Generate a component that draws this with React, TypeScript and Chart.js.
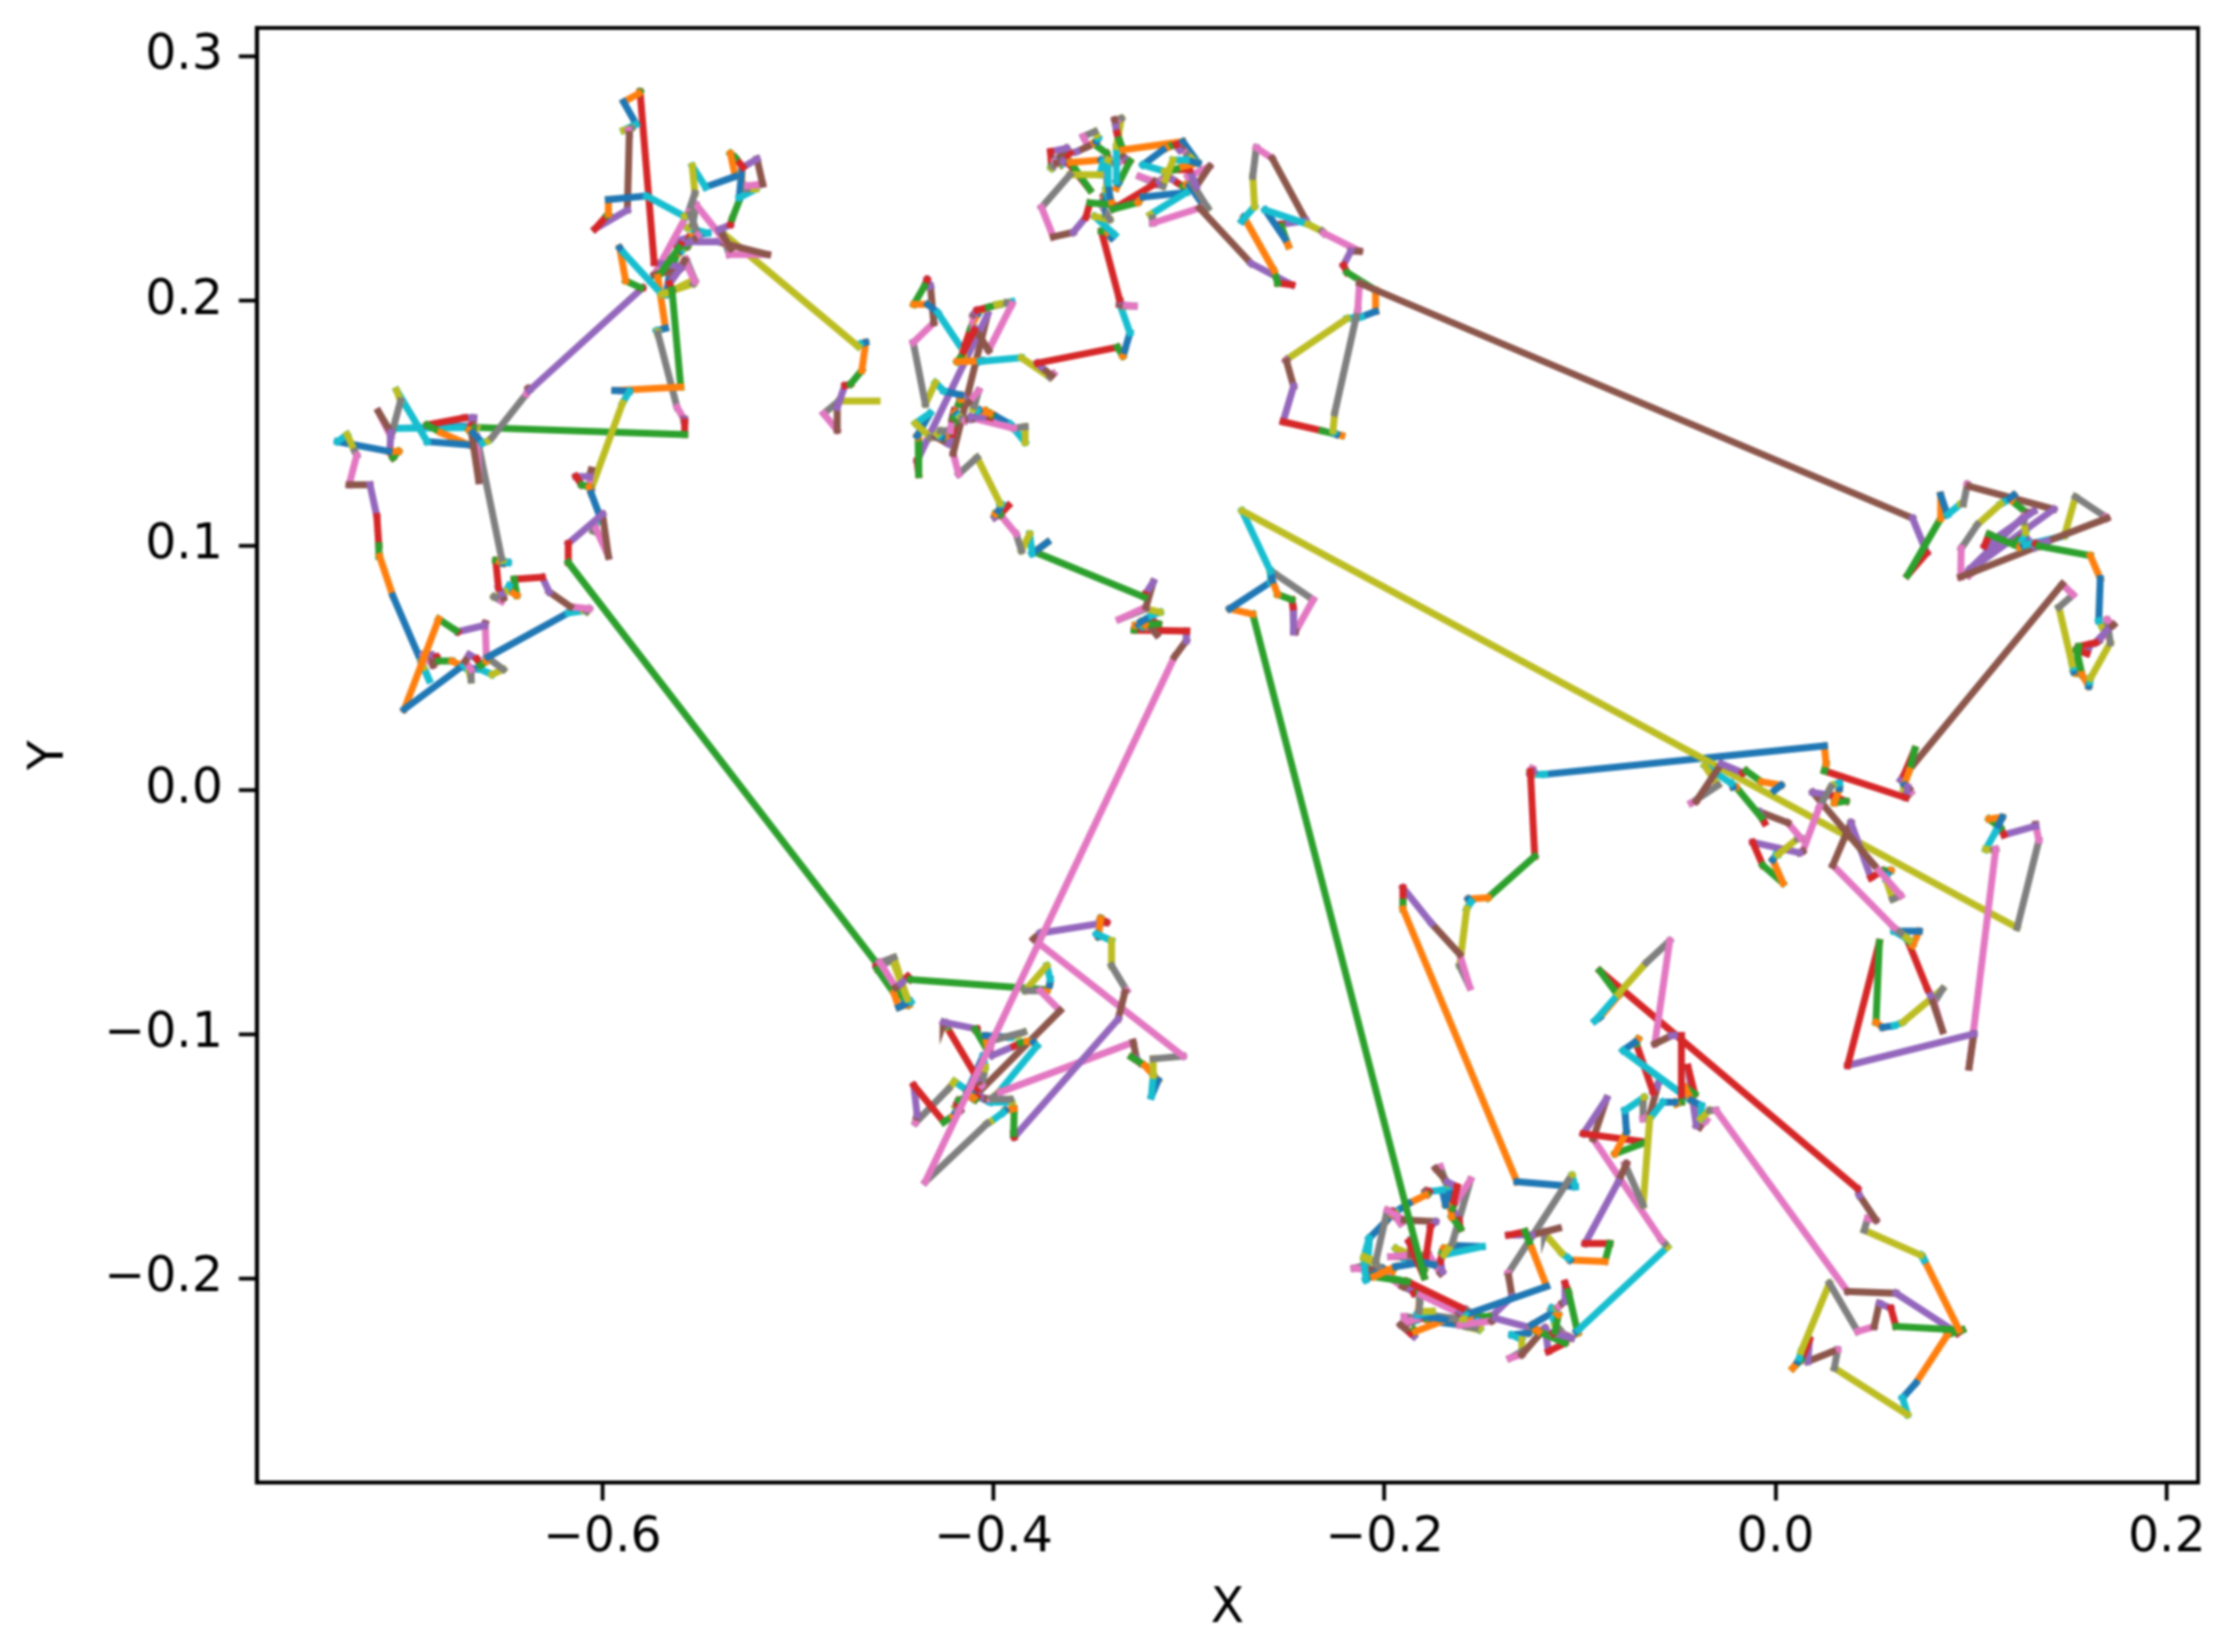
import React, { useEffect, useRef } from "react";
import { Chart, registerables } from "chart.js";

Chart.register(...registerables);

const xTicks = [-0.6, -0.4, -0.2, 0.0, 0.2];
const yTicks = [-0.2, -0.1, 0.0, 0.1, 0.2, 0.3];
const xLabel = "X";
const yLabel = "Y";
const palette = ["#1f77b4", "#ff7f0e", "#2ca02c", "#d62728", "#9467bd", "#8c564b", "#e377c2", "#7f7f7f", "#bcbd22", "#17becf"];

type P = [number, number];
const startPoint: P[] = [[-0.0006, -0.0002]];
const centreRight: P[] = [
[0.0028,0.0019],[-0.0074,0.0034],[-0.0151,0.0078],[-0.0168,0.0070],[-0.0278,0.0107],[-0.0406,-0.0046],[-0.0431,-0.0053],[-0.0295,0.0019],[-0.0363,0.0099],[-0.0227,0.0027],
[-0.0218,0.0012],[-0.0202,0.0012],[-0.0074,-0.0112],[-0.0057,-0.0134],[-0.0082,-0.0090],[0.0062,-0.0134],[0.0130,-0.0199],[0.0113,-0.0199],[0.0011,-0.0265],[0.0003,-0.0265],
[-0.0015,-0.0286],[0.0037,-0.0381],[-0.0066,-0.0308],[-0.0117,-0.0214],[0.0122,-0.0257],[0.0139,-0.0250],[0.0224,-0.0068],[0.0283,0.0012],[0.0292,0.0019],[0.0326,0.0027],
[0.0326,0.0005],[0.0300,-0.0053],[0.0360,-0.0046],[0.0292,-0.0024],[0.0190,-0.0010],[0.0504,-0.0308],[0.0640,-0.0432],[0.0598,-0.0447],[0.0564,-0.0366],[0.0567,-0.0352],
[0.0572,-0.0345],[0.0589,-0.0330],[0.0547,-0.0330],[0.0487,-0.0359],[0.0385,-0.0134],[0.0292,-0.0308],[0.0606,-0.0563],[0.0640,-0.0585],[0.0683,-0.0614],[0.0606,-0.0578],
[0.0734,-0.0578],[0.0700,-0.0636],[0.0674,-0.0614],[0.0776,-0.0815],[0.0793,-0.0842],[0.0853,-0.0985],[0.0810,-0.0869],[0.0853,-0.0815],[0.0649,-0.0951],[0.0606,-0.0964],
[0.0547,-0.0971],[0.0513,-0.0951],[0.0530,-0.0624],[0.0368,-0.1127],[0.1014,-0.0998],[0.0989,-0.1134],[0.1125,-0.0243],[0.1116,-0.0246],[0.1074,-0.0243],[0.1125,-0.0170],
[0.1159,-0.0112],[0.1091,-0.0119],[0.1150,-0.0155],[0.1167,-0.0184],[0.1329,-0.0148],[0.1329,-0.0141],[0.1346,-0.0206],[0.1235,-0.0563],[-0.2729,0.1142],[-0.2583,0.0894],
[-0.2574,0.0858],[-0.2547,0.0800],[-0.2474,0.0778],[-0.2468,0.0749],[-0.2465,0.0647],[-0.2456,0.0647],[-0.2365,0.0778],[-0.2565,0.0887],[-0.2583,0.0894],[-0.2583,0.0850],
];
const lowerCluster: P[] = [
[-0.2792,0.0741],[-0.2674,0.0719],[-0.1798,-0.1991],[-0.1875,-0.1848],[-0.1866,-0.1841],[-0.1866,-0.1902],[-0.1968,-0.1909],[-0.1841,-0.1909],[-0.1943,-0.1875],[-0.1900,-0.1916],
[-0.1748,-0.1943],[-0.1833,-0.1929],[-0.1798,-0.1963],[-0.1765,-0.1787],[-0.1739,-0.1766],[-0.1900,-0.1759],[-0.1986,-0.1719],[-0.2045,-0.1929],[-0.2105,-0.1909],[-0.2079,-0.1834],
[-0.1986,-0.1759],[-0.1977,-0.1746],[-0.1969,-0.1732],[-0.1960,-0.1725],[-0.1952,-0.1739],[-0.1960,-0.1732],[-0.1918,-0.1773],[-0.1935,-0.1746],[-0.1943,-0.1732],[-0.1943,-0.1725],
[-0.1875,-0.1691],[-0.1790,-0.1657],[-0.1782,-0.1655],[-0.1773,-0.1644],[-0.1782,-0.1647],[-0.1790,-0.1641],[-0.1782,-0.1651],[-0.1790,-0.1644],[-0.1782,-0.1644],[-0.1705,-0.1637],
[-0.1688,-0.1698],[-0.1680,-0.1701],[-0.1654,-0.1712],[-0.1629,-0.1623],[-0.1680,-0.1603],[-0.1739,-0.1549],[-0.1714,-0.1542],[-0.1688,-0.1603],[-0.1680,-0.1610],[-0.1671,-0.1623],
[-0.1663,-0.1671],[-0.1657,-0.1746],[-0.1612,-0.1793],[-0.1620,-0.1759],[-0.1654,-0.1712],[-0.1646,-0.1698],[-0.1561,-0.1596],[-0.1654,-0.1855],[-0.1696,-0.1902],[-0.1501,-0.1868],
[-0.1637,-0.1864],[-0.1696,-0.1875],[-0.1705,-0.1889],[-0.1714,-0.1929],[-0.1705,-0.1970],[-0.1714,-0.1977],[-0.1773,-0.1902],[-0.1824,-0.1909],[-0.1782,-0.1895],[-0.1782,-0.1929],
[-0.1943,-0.1950],[-0.2054,-0.1991],[-0.1884,-0.2011],[-0.1603,-0.2120],[-0.1612,-0.2133],[-0.1620,-0.2140],[-0.1816,-0.2065],[-0.1824,-0.2133],[-0.1756,-0.2133],[-0.1833,-0.2147],
[-0.1688,-0.2167],[-0.1841,-0.2215],[-0.1850,-0.2208],[-0.1867,-0.2222],[-0.1850,-0.2235],[-0.1918,-0.2188],[-0.1790,-0.2147],[-0.1637,-0.2161],[-0.1595,-0.2163],[-0.1586,-0.2147],
];
const lowerMiddle: P[] = [
[-0.1171,-0.2031],[-0.1247,-0.1875],[-0.1281,-0.1807],[-0.1366,-0.1821],[-0.1247,-0.1821],[-0.1111,-0.1793],[-0.1179,-0.1807],[-0.1182,-0.1814],[-0.1094,-0.1895],[-0.1060,-0.1916],
[-0.1052,-0.1923],[-0.0873,-0.1929],[-0.0848,-0.1855],[-0.0975,-0.1855],[-0.0805,-0.1603],[-0.0763,-0.1528],[-0.0771,-0.1531],[-0.0678,-0.1698],[-0.0644,-0.1345],[-0.0576,-0.1277],
[-0.0516,-0.1277],[-0.0508,-0.1284],[-0.0482,-0.1277],[-0.0482,-0.1005],[-0.0533,-0.1005],[-0.0618,-0.1039],[-0.0542,-0.0617],[-0.0661,-0.0706],[-0.0805,-0.0835],[-0.0924,-0.0944],
[-0.0899,-0.0930],[-0.0805,-0.0842],[-0.0899,-0.0740],[0.0419,-0.1631],[0.0428,-0.1658],[0.0513,-0.1760],[0.0470,-0.1753],[0.0453,-0.1801],[0.0742,-0.1903],[0.0759,-0.1923],
[0.0751,-0.1909],[0.0938,-0.2209],[0.0615,-0.2195],[0.0589,-0.2120],[0.0530,-0.2100],[0.0504,-0.2195],[0.0419,-0.2215],[0.0275,-0.2018],[0.0130,-0.2297],[0.0122,-0.2324],
[0.0113,-0.2338],[0.0088,-0.2365],[0.0130,-0.2331],[0.0173,-0.2249],[0.0164,-0.2338],[0.0292,-0.2297],[0.0317,-0.2290],[0.0300,-0.2365],[0.0674,-0.2555],[0.0649,-0.2487],
[0.0717,-0.2426],[0.0878,-0.2229],[0.0955,-0.2209],[0.0929,-0.2222],[0.0615,-0.2059],[0.0368,-0.2052],[-0.0304,-0.1311],[-0.0338,-0.1311],[-0.0383,-0.1345],[-0.0380,-0.1291],
[-0.0431,-0.1270],[-0.0465,-0.1216],[-0.0414,-0.1243],[-0.0448,-0.1134],[-0.0406,-0.1372],[-0.0389,-0.1379],[-0.0355,-0.1352],[-0.0372,-0.1345],[-0.0389,-0.1297],[-0.0780,-0.1066],
[-0.0720,-0.1032],[-0.0703,-0.1019],[-0.0712,-0.1039],[-0.0627,-0.1236],[-0.0601,-0.1202],[-0.0644,-0.1331],[-0.0678,-0.1345],[-0.0678,-0.1284],[-0.0672,-0.1257],[-0.0771,-0.1311],
[-0.0763,-0.1399],[-0.0822,-0.1488],[-0.0661,-0.1440],[-0.0984,-0.1406],[-0.0865,-0.1263],[-0.0933,-0.1427],[-0.0584,-0.1841],[-0.0567,-0.1855],[-0.0553,-0.1869],[-0.1009,-0.2209],
[-0.1018,-0.2215],[-0.1012,-0.2222],[-0.1060,-0.2052],[-0.1077,-0.2018],[-0.1077,-0.2093],[-0.1091,-0.2099],[-0.1108,-0.2113],[-0.1114,-0.2117],[-0.1120,-0.2120],[-0.1145,-0.2120],
[-0.1148,-0.2123],[-0.1111,-0.2147],[-0.1128,-0.2215],[-0.1137,-0.2222],[-0.1043,-0.2242],[-0.1060,-0.2235],[-0.1077,-0.2231],[-0.1111,-0.2201],[-0.1128,-0.2188],[-0.1145,-0.2140],
[-0.1247,-0.2188],[-0.1213,-0.2215],[-0.1077,-0.2263],[-0.1162,-0.2297],[-0.1179,-0.2201],[-0.1298,-0.2310],[-0.1358,-0.2324],[-0.1298,-0.2297],[-0.1298,-0.2249],[-0.1349,-0.2229],
[-0.1264,-0.2222],[-0.1247,-0.2208],[-0.1128,-0.2235],[-0.1060,-0.2242],[-0.1434,-0.2161],[-0.1451,-0.2172],[-0.1613,-0.2188],[-0.1536,-0.2201],[-0.1511,-0.2201],[-0.1528,-0.2174],
];
const clusterReturn: P[] = [
[-0.1527,-0.2167],[-0.1578,-0.2161],[-0.1595,-0.2133],[-0.1603,-0.2147],[-0.1612,-0.2167],[-0.1629,-0.2174],[-0.1620,-0.2188],[-0.1586,-0.2195],[-0.1518,-0.2208],[-0.1544,-0.2195],
[-0.1756,-0.2174],[-0.1765,-0.2181],[-0.1782,-0.2167],[-0.1807,-0.2161],[-0.1833,-0.2161],[-0.1892,-0.2188],[-0.1900,-0.2154],[-0.1824,-0.2161],[-0.1773,-0.2147],[-0.1850,-0.2174],
[-0.1833,-0.2167],[-0.1821,-0.2093],[-0.1824,-0.2052],[-0.1850,-0.2059],[-0.1867,-0.2045],[-0.1909,-0.2031],[-0.1994,-0.1984],[-0.2045,-0.1936],[-0.2105,-0.1916],[-0.2096,-0.2004],
[-0.2011,-0.1957],[-0.1960,-0.1970],[-0.1977,-0.1991],[-0.1994,-0.1977],[-0.2028,-0.1957],[-0.2079,-0.1963],[-0.2156,-0.1957],[-0.2096,-0.1943],[-0.2088,-0.1970],[-0.2079,-0.1848],
[-0.2096,-0.1936],[-0.2088,-0.1977],[-0.1884,-0.2011],[-0.1595,-0.2133],[-0.1586,-0.2127],[-0.1583,-0.2133],[-0.1578,-0.2140],[-0.1572,-0.2133],[-0.1566,-0.2140],[-0.1569,-0.2147],
[-0.1561,-0.2140],[-0.1578,-0.2154],[-0.1467,-0.2154],[-0.1462,-0.2161],[-0.1348,-0.2072],[-0.1365,-0.1991],[-0.1368,-0.1977],[-0.1059,-0.1596],[-0.1042,-0.1576],[-0.1025,-0.1623],
[-0.1323,-0.1603],[-0.1906,-0.0487],[-0.1906,-0.0458],[-0.1906,-0.0400],[-0.1761,-0.0545],[-0.1616,-0.0672],[-0.1565,-0.0806],[-0.1616,-0.0719],[-0.1580,-0.0487],[-0.1558,-0.0458],
[-0.1572,-0.0446],[-0.1471,-0.0441],[-0.1232,-0.0272],[-0.1254,0.0075],[-0.1239,0.0075],[-0.1254,0.0064],[-0.1246,0.0087],[-0.1254,0.0075],[-0.1246,0.0064],[-0.1181,0.0064],
];
const upperRight: P[] = [
[0.0249,0.0180],[0.0258,0.0107],[0.0249,0.0078],[0.0666,-0.0032],[0.0674,0.0012],[0.0683,0.0005],[0.0691,-0.0010],[0.0674,-0.0024],[0.0657,-0.0002],[0.0666,0.0005],
[0.0657,0.0019],[0.0683,0.0078],[0.0711,0.0165],[0.0657,0.0063],[0.0640,0.0041],[0.1465,0.0842],[0.1521,0.0798],[0.1448,0.0747],[0.1516,0.0514],[0.1521,0.0500],
[0.1524,0.0485],[0.1533,0.0478],[0.1550,0.0587],[0.1635,0.0602],[0.1694,0.0653],[0.1728,0.0675],[0.1694,0.0696],[0.1711,0.0602],[0.1609,0.0456],[0.1606,0.0442],
[0.1601,0.0424],[0.1567,0.0471],[0.1538,0.0573],[0.1592,0.0558],[0.1609,0.0594],[0.1652,0.0609],[0.1694,0.0645],[0.1703,0.0675],[0.1669,0.0667],[0.1652,0.0692],
[0.1660,0.0864],[0.1609,0.0958],[0.1346,0.0998],[0.1329,0.1007],[0.1388,0.1017],[0.1694,0.1111],[0.1687,0.1117],[0.1533,0.1199],[0.1476,0.1039],[0.1278,0.1002],
[0.1269,0.0998],[0.1249,0.0992],[0.1091,0.1046],[0.1068,0.0998],[0.1320,0.1140],[0.1289,0.1132],[0.1278,0.1126],[0.1269,0.1097],[0.1278,0.1053],[0.1261,0.1024],
[0.1269,0.1031],[0.1252,0.1007],[0.1235,0.1021],[0.1269,0.1041],[0.1329,0.0992],[0.0946,0.0871],[0.0949,0.0988],[0.1031,0.1085],[0.1150,0.1170],[0.1167,0.1177],
[0.1218,0.1206],[0.1204,0.1184],[0.1286,0.1133],[0.1278,0.1126],[0.0989,0.0900],[0.0980,0.0886],[0.0989,0.0878],[0.1006,0.0893],[0.1023,0.0908],[0.1014,0.0900],
[0.1006,0.0893],[0.0997,0.0896],[0.0989,0.0890],[0.0994,0.0900],[0.1422,0.1148],[0.0989,0.1242],[0.0980,0.1250],[0.0960,0.1170],[0.0946,0.1170],[0.0878,0.1126],
[0.0844,0.1206],[0.0844,0.1111],[0.0674,0.0878],[0.0773,0.0969],[0.0700,0.1111],[-0.2128,0.2073],[-0.2137,0.1964],[-0.2255,0.1542],[-0.2264,0.1469],[-0.2259,0.1462],
];
const upperMiddle: P[] = [
[-0.2246,0.1455],[-0.2219,0.1450],[-0.2319,0.1469],[-0.2519,0.1506],[-0.2465,0.1651],[-0.2501,0.1753],[-0.2505,0.1756],[-0.2501,0.1760],[-0.2192,0.1928],[-0.2119,0.1935],
[-0.2046,0.1957],[-0.2046,0.2044],[-0.2192,0.2117],[-0.2210,0.2146],[-0.2173,0.2204],[-0.2128,0.2204],[-0.2310,0.2277],[-0.2319,0.2285],[-0.2392,0.2314],[-0.2610,0.2372],
[-0.2510,0.2255],[-0.2492,0.2226],[-0.2528,0.2306],[-0.2528,0.2314],[-0.2401,0.2328],[-0.2574,0.2583],[-0.2656,0.2627],[-0.2674,0.2510],[-0.2665,0.2386],[-0.2729,0.2328],
[-0.2719,0.2343],[-0.2565,0.2124],[-0.2547,0.2073],[-0.2474,0.2066],[-0.2683,0.2154],[-0.2946,0.2380],[-0.3184,0.2319],[-0.3187,0.2339],[-0.3198,0.2353],[-0.3014,0.2444],
];
const topCluster: P[] = [
[-0.3235,0.2425],[-0.3261,0.2403],[-0.3388,0.2376],[-0.3184,0.2474],[-0.3164,0.2479],[-0.3176,0.2489],[-0.3252,0.2509],[-0.3133,0.2469],[-0.3082,0.2577],[-0.3014,0.2577],
[-0.2955,0.2564],[-0.3031,0.2550],[-0.3074,0.2537],[-0.2997,0.2537],[-0.2963,0.2469],[-0.2895,0.2550],[-0.3006,0.2509],[-0.2904,0.2380],[-0.2912,0.2387],[-0.2929,0.2394],
[-0.2997,0.2471],[-0.3014,0.2475],[-0.3031,0.2469],[-0.3057,0.2482],[-0.3082,0.2496],[-0.3099,0.2503],[-0.3167,0.2485],[-0.3116,0.2509],[-0.3125,0.2530],[-0.3235,0.2557],
[-0.3133,0.2618],[-0.3116,0.2625],[-0.3099,0.2632],[-0.3065,0.2639],[-0.3048,0.2618],[-0.3040,0.2625],[-0.3031,0.2618],[-0.3014,0.2605],[-0.2980,0.2577],[-0.2955,0.2567],
[-0.3031,0.2652],[-0.3337,0.2618],[-0.3357,0.2659],[-0.3368,0.2686],[-0.3374,0.2713],[-0.3380,0.2741],[-0.3371,0.2734],[-0.3346,0.2747],[-0.3371,0.2632],[-0.3371,0.2489],
[-0.3363,0.2482],[-0.3371,0.2462],[-0.3303,0.2571],[-0.3312,0.2564],[-0.3320,0.2577],[-0.3337,0.2591],[-0.3354,0.2571],[-0.3380,0.2564],[-0.3414,0.2577],[-0.3414,0.2482],
[-0.3405,0.2428],[-0.3391,0.2394],[-0.3507,0.2401],[-0.3527,0.2343],[-0.3592,0.2281],[-0.3694,0.2262],[-0.3754,0.2383],[-0.3609,0.2516],[-0.3456,0.2516],[-0.3439,0.2571],
[-0.3448,0.2577],[-0.3606,0.2567],[-0.3507,0.2455],[-0.3609,0.2557],[-0.3643,0.2571],[-0.3677,0.2564],[-0.3686,0.2571],[-0.3694,0.2550],[-0.3703,0.2543],[-0.3694,0.2557],
[-0.3686,0.2577],[-0.3680,0.2571],[-0.3703,0.2550],[-0.3708,0.2611],[-0.3626,0.2625],[-0.3686,0.2567],[-0.3677,0.2577],[-0.3669,0.2571],[-0.3660,0.2564],[-0.3652,0.2561],
[-0.3643,0.2564],[-0.3652,0.2557],[-0.3660,0.2564],[-0.3609,0.2605],[-0.3575,0.2611],[-0.3516,0.2632],[-0.3541,0.2673],[-0.3482,0.2693],[-0.3473,0.2679],[-0.3465,0.2666],
[-0.3473,0.2652],[-0.3490,0.2645],[-0.3422,0.2605],[-0.3414,0.2584],[-0.3422,0.2571],[-0.3431,0.2550],[-0.3422,0.2523],[-0.3419,0.2489],[-0.3425,0.2455],[-0.3422,0.2448],
[-0.3425,0.2439],[-0.3431,0.2428],[-0.3422,0.2407],[-0.3436,0.2428],[-0.3439,0.2414],[-0.3442,0.2401],[-0.3448,0.2394],[-0.3405,0.2333],[-0.3482,0.2346],[-0.3380,0.2271],
[-0.3397,0.2258],[-0.3414,0.2278],[-0.3448,0.2285],[-0.3356,0.2008],[-0.3353,0.2001],[-0.3356,0.1986],[-0.3280,0.1979],[-0.3338,0.1979],[-0.3353,0.1986],[-0.3302,0.1870],
[-0.3329,0.1797],[-0.3338,0.1775],[-0.3366,0.1811],[-0.3775,0.1746],[-0.3757,0.1731],[-0.3702,0.1695],[-0.3693,0.1702],[-0.3711,0.1688],[-0.3857,0.1768],[-0.4066,0.1753],
];
const midCluster: P[] = [
[-0.4059,0.1755],[-0.4186,0.1752],[-0.4169,0.1768],[-0.4098,0.1880],[-0.4092,0.1884],[-0.4025,0.1798],[-0.3906,0.1986],[-0.3931,0.1993],[-0.3982,0.1986],[-0.3906,0.1997],
[-0.3948,0.1989],[-0.3982,0.1983],[-0.4025,0.1975],[-0.4084,0.1962],[-0.4092,0.1952],[-0.4101,0.1945],[-0.4104,0.1938],[-0.4084,0.1959],[-0.4050,0.1966],[-0.4067,0.1962],
[-0.4075,0.1952],[-0.4101,0.1918],[-0.4118,0.1884],[-0.4144,0.1823],[-0.4135,0.1830],[-0.4144,0.1816],[-0.4152,0.1802],[-0.4155,0.1798],[-0.4152,0.1793],[-0.4285,0.1952],
[-0.4336,0.1986],[-0.4407,0.1986],[-0.4353,0.2061],[-0.4339,0.2088],[-0.4322,0.2061],[-0.4305,0.1911],[-0.4410,0.1830],[-0.4348,0.1578],[-0.4297,0.1666],[-0.4254,0.1632],
[-0.4169,0.1616],[-0.4166,0.1598],[-0.4178,0.1578],[-0.4169,0.1598],[-0.4152,0.1605],[-0.4127,0.1585],[-0.4076,0.1632],[-0.4098,0.1571],[-0.4104,0.1558],[-0.4084,0.1551],
[-0.4075,0.1554],[-0.4019,0.1540],[-0.4013,0.1534],[-0.4016,0.1524],[-0.4115,0.1526],[-0.4104,0.1521],[-0.3897,0.1480],[-0.3838,0.1486],[-0.3838,0.1422],[-0.3914,0.1496],
[-0.3999,0.1534],[-0.4042,0.1551],[-0.4067,0.1544],[-0.4084,0.1530],[-0.4110,0.1517],[-0.4127,0.1517],[-0.4144,0.1510],[-0.4161,0.1517],[-0.4169,0.1524],[-0.4178,0.1530],
[-0.4186,0.1537],[-0.4195,0.1544],[-0.4203,0.1524],[-0.4200,0.1551],[-0.4206,0.1537],[-0.4212,0.1517],[-0.4220,0.1469],[-0.4271,0.1469],[-0.4288,0.1456],[-0.4280,0.1449],
[-0.4263,0.1442],[-0.4246,0.1446],[-0.4200,0.1503],[-0.4212,0.1456],[-0.4229,0.1415],[-0.4297,0.1445],[-0.4288,0.1442],[-0.4322,0.1442],[-0.4399,0.1499],[-0.4325,0.1540],
[-0.4390,0.1449],[-0.4385,0.1442],[-0.4382,0.1290],[-0.4390,0.1347],[-0.4030,0.1945],[-0.4206,0.1377],[-0.4178,0.1292],[-0.4084,0.1360],[-0.3966,0.1171],[-0.3957,0.1168],
[-0.3975,0.1142],[-0.3990,0.1130],[-0.3966,0.1127],[-0.3924,0.1163],[-0.3993,0.1115],[-0.3966,0.1127],[-0.3884,0.1047],[-0.3857,0.0979],[-0.3815,0.1047],[-0.3802,0.0967],
[-0.3724,0.1013],[-0.3790,0.0974],[-0.3229,0.0789],[-0.3225,0.0799],[-0.3183,0.0850],[-0.3220,0.0748],[-0.3356,0.0698],[-0.3220,0.0741],[-0.3147,0.0727],[-0.3193,0.0712],
[-0.3247,0.0687],[-0.3225,0.0676],[-0.3156,0.0679],[-0.3184,0.0690],[-0.3211,0.0683],[-0.3165,0.0635],[-0.3193,0.0661],[-0.3220,0.0668],[-0.3193,0.0690],[-0.3238,0.0668],
[-0.3256,0.0676],[-0.3275,0.0673],[-0.3280,0.0654],[-0.3011,0.0650],[-0.3014,0.0610],[-0.3074,0.0545],[-0.4348,-0.1603],[-0.4033,-0.1365],[-0.4016,-0.1358],[-0.3951,-0.1320],
];
const bottomLeftCluster: P[] = [
[-0.3940,-0.1311],[-0.3894,-0.1304],[-0.3897,-0.1406],[-0.3894,-0.1420],[-0.3362,-0.0937],[-0.3328,-0.0828],[-0.3319,-0.0821],[-0.3396,-0.0719],[-0.3396,-0.0617],[-0.3472,-0.0590],
[-0.3464,-0.0600],[-0.3452,-0.0529],[-0.3452,-0.0526],[-0.3421,-0.0542],[-0.3761,-0.0586],[-0.3795,-0.0610],[-0.3030,-0.1089],[-0.3183,-0.1100],[-0.3183,-0.1168],[-0.3192,-0.1252],
[-0.3158,-0.1188],[-0.3226,-0.1127],[-0.3294,-0.1093],[-0.3251,-0.1116],[-0.3268,-0.1100],[-0.3285,-0.1032],[-0.3965,-0.1236],[-0.4007,-0.1260],[-0.3973,-0.1236],[-0.3778,-0.1048],
[-0.3795,-0.1032],[-0.3829,-0.1029],[-0.3863,-0.1035],[-0.3894,-0.1048],[-0.4007,-0.1086],[-0.4019,-0.1076],[-0.4007,-0.1025],[-0.3846,-0.0991],[-0.3880,-0.1005],[-0.3914,-0.1012],
[-0.4042,-0.1005],[-0.4025,-0.1073],[-0.4093,-0.0980],[-0.4084,-0.0978],[-0.4254,-0.0950],[-0.4257,-0.0957],[-0.4245,-0.0953],[-0.4240,-0.0961],[-0.4249,-0.0964],[-0.4245,-0.0959],
[-0.4240,-0.0964],[-0.4245,-0.0971],[-0.4237,-0.0971],[-0.4101,-0.1154],[-0.4084,-0.1182],[-0.4076,-0.1195],[-0.4059,-0.1209],[-0.4050,-0.1168],[-0.4042,-0.1134],[-0.4053,-0.1089],
[-0.4135,-0.1236],[-0.4121,-0.1250],[-0.4178,-0.1270],[-0.4186,-0.1284],[-0.4178,-0.1297],[-0.4169,-0.1311],[-0.4178,-0.1318],[-0.4186,-0.1304],[-0.4194,-0.1297],[-0.4186,-0.1307],
[-0.4194,-0.1318],[-0.4206,-0.1334],[-0.4254,-0.1358],[-0.4407,-0.1209],[-0.4390,-0.1331],[-0.4393,-0.1338],[-0.4398,-0.1361],[-0.4229,-0.1222],[-0.4200,-0.1192],[-0.4135,-0.1229],
[-0.4127,-0.1243],[-0.4101,-0.1260],[-0.4093,-0.1266],[-0.4084,-0.1256],[-0.4067,-0.1256],[-0.4050,-0.1260],[-0.4033,-0.1263],[-0.3914,-0.1266],[-0.3906,-0.1277],[-0.4016,-0.1277],
[-0.4127,-0.1236],[-0.4115,-0.1247],[-0.4101,-0.1263],[-0.4076,-0.1209],[-0.4084,-0.1243],[-0.3659,-0.0903],[-0.3761,-0.0821],[-0.3838,-0.0821],[-0.3727,-0.0719],[-0.3710,-0.0774],
[-0.3713,-0.0798],[-0.3724,-0.0817],[-0.4424,-0.0776],[-0.4438,-0.0763],[-0.4475,-0.0794],[-0.4500,-0.0808],[-0.4580,-0.0706],[-0.4509,-0.0685],[-0.4441,-0.0855],[-0.4424,-0.0866],
[-0.4484,-0.0889],[-0.4509,-0.0831],[-0.4594,-0.0733],[-0.4599,-0.0722],[-0.4591,-0.0712],[-0.4586,-0.0708],[-0.4569,-0.0719],[-0.4518,-0.0692],[-0.4450,-0.0835],[-0.4433,-0.0862],
];
const leftRegion: P[] = [
[-0.4478,-0.0885],[-0.4433,-0.0880],[-0.6174,0.0930],[-0.6174,0.1008],[-0.5999,0.1128],[-0.5969,0.0956],[-0.6037,0.1076],[-0.6047,0.1059],[-0.6041,0.1081],[-0.6008,0.1110],
[-0.6057,0.1213],[-0.6067,0.1239],[-0.6106,0.1248],[-0.6135,0.1282],[-0.6067,0.1282],[-0.6057,0.1308],[-0.6067,0.1248],[-0.6057,0.1231],[-0.5897,0.1582],[-0.5862,0.1630],
[-0.5936,0.1634],[-0.5599,0.1648],[-0.5644,0.2046],[-0.5657,0.2071],[-0.5599,0.2135],[-0.5579,0.2166],[-0.5527,0.2080],[-0.5534,0.2071],[-0.5696,0.2028],[-0.5891,0.2197],
[-0.5911,0.2217],[-0.5881,0.2083],[-0.5804,0.2054],[-0.5794,0.2054],[-0.6373,0.1634],[-0.6379,0.1642],[-0.6388,0.1620],[-0.6564,0.1442],[-0.6584,0.1428],[-0.6613,0.1419],
[-0.6662,0.1462],[-0.6681,0.1471],[-0.6662,0.1479],[-0.6671,0.1488],[-0.6671,0.1471],[-0.6632,0.1265],[-0.6642,0.1445],[-0.6515,0.0947],[-0.6509,0.0939],[-0.6482,0.0930],
[-0.6506,0.0927],[-0.6525,0.0934],[-0.6545,0.0939],[-0.6531,0.0827],[-0.6515,0.0802],[-0.6506,0.0784],[-0.6515,0.0772],[-0.6554,0.0790],[-0.6496,0.0810],[-0.6476,0.0836],
[-0.6486,0.0819],[-0.6437,0.0796],[-0.6451,0.0862],[-0.6307,0.0870],[-0.6272,0.0810],[-0.6164,0.0750],[-0.6067,0.0741],[-0.6080,0.0730],[-0.6092,0.0733],[-0.6174,0.0724],
[-0.6584,0.0544],[-0.6593,0.0527],[-0.6623,0.0510],[-0.6642,0.0536],[-0.6681,0.0553],[-0.6701,0.0527],[-0.6671,0.0493],[-0.6671,0.0450],[-0.6681,0.0484],[-0.6710,0.0510],
[-0.7013,0.0330],[-0.6837,0.0699],[-0.6749,0.0652],[-0.6740,0.0647],[-0.6603,0.0673],[-0.6599,0.0681],[-0.6593,0.0544],[-0.6506,0.0493],[-0.6564,0.0472],[-0.6623,0.0493],
[-0.6701,0.0501],[-0.6769,0.0527],[-0.6837,0.0527],[-0.6847,0.0544],[-0.6876,0.0553],[-0.6866,0.0510],[-0.6915,0.0553],[-0.6925,0.0527],[-0.6915,0.0501],[-0.6886,0.0450],
[-0.7071,0.0793],[-0.7139,0.0956],[-0.7143,0.0999],[-0.7153,0.1119],[-0.7188,0.1248],[-0.7295,0.1248],[-0.7256,0.1368],[-0.7266,0.1385],[-0.7305,0.1454],[-0.7354,0.1425],
[-0.7091,0.1385],[-0.7042,0.1385],[-0.7071,0.1359],[-0.7087,0.1385],[-0.7081,0.1462],[-0.7145,0.1548],[-0.7081,0.1445],[-0.7032,0.1591],[-0.7052,0.1634],[-0.6896,0.1425],
[-0.6681,0.1411],[-0.6827,0.1462],[-0.6896,0.1493],[-0.6704,0.1522],[-0.6658,0.1522],[-0.6662,0.1505],[-0.6671,0.1497],[-0.6658,0.1488],[-0.6642,0.1483],[-0.7061,0.1479],
[-0.6662,0.1488],[-0.6652,0.1483],[-0.5579,0.1454],[-0.5579,0.1505],[-0.5579,0.1514],[-0.5583,0.1517],[-0.5618,0.1565],[-0.5716,0.1866],[-0.5716,0.1874],[-0.5722,0.1878],
];
const upperLeft: P[] = [
[-0.5677,0.1888],[-0.5716,0.2097],[-0.5609,0.2217],[-0.5599,0.2231],[-0.5550,0.2243],[-0.5531,0.2252],[-0.5511,0.2269],[-0.5550,0.2355],[-0.5579,0.2346],[-0.5774,0.2430],
[-0.5969,0.2415],[-0.5969,0.2355],[-0.5975,0.2351],[-0.6037,0.2295],[-0.5872,0.2372],[-0.5862,0.2681],[-0.5866,0.2698],[-0.5852,0.2706],[-0.5891,0.2698],[-0.5827,0.2723],
[-0.5891,0.2814],[-0.5813,0.2849],[-0.5807,0.2856],[-0.5735,0.2157],[-0.5599,0.2140],[-0.5735,0.2106],[-0.5560,0.2363],[-0.5527,0.2440],[-0.5540,0.2552],[-0.5472,0.2466],
[-0.5320,0.2509],[-0.5345,0.2603],[-0.5320,0.2586],[-0.5281,0.2547],[-0.5209,0.2581],[-0.5180,0.2478],[-0.5258,0.2471],[-0.5261,0.2458],[-0.5215,0.2458],[-0.5300,0.2423],
[-0.5287,0.2535],[-0.5287,0.2437],[-0.5336,0.2337],[-0.5345,0.2312],[-0.5402,0.2292],[-0.5342,0.2214],[-0.5521,0.2394],[-0.5538,0.2312],[-0.5563,0.2299],[-0.5461,0.2278],
[-0.5504,0.2272],[-0.5538,0.2265],[-0.5572,0.2224],[-0.5554,0.2261],[-0.5622,0.2244],[-0.5605,0.2238],[-0.5588,0.2231],[-0.5563,0.2224],[-0.5572,0.2220],[-0.5588,0.2210],
[-0.5597,0.2204],[-0.5605,0.2197],[-0.5699,0.2149],[-0.5685,0.2118],[-0.5589,0.2138],[-0.5648,0.2106],[-0.5572,0.2170],[-0.5529,0.2088],[-0.5665,0.2034],[-0.5673,0.2027],
[-0.5657,0.2108],[-0.5640,0.2142],[-0.5614,0.2204],[-0.5623,0.2242],[-0.5410,0.2242],[-0.5155,0.2190],[-0.5351,0.2190],[-0.5385,0.2278],[-0.4692,0.1814],[-0.4682,0.1823],
[-0.4653,0.1831],[-0.4673,0.1716],[-0.4731,0.1660],[-0.4760,0.1654],[-0.4799,0.1565],[-0.4799,0.1471],[-0.4868,0.1539],[-0.4790,0.1591],[-0.4595,0.1591],
];

const walk: P[] = [
  ...startPoint, ...centreRight, ...lowerCluster, ...lowerMiddle, ...clusterReturn, ...upperRight,
  ...upperMiddle, ...topCluster, ...midCluster, ...bottomLeftCluster, ...leftRegion, ...upperLeft,
];

const FONT = "'DejaVu Sans'";
const fmt = (v: number) => v.toFixed(1).replace("-", "\u2212");

const frame = {
  id: "frame",
  afterDatasetsDraw(chart: any) {
    const { ctx, chartArea: a } = chart;
    ctx.save();
    ctx.strokeStyle = "#000";
    ctx.lineWidth = 3.8;
    ctx.strokeRect(a.left, a.top, a.right - a.left, a.bottom - a.top);
    ctx.restore();
  },
};

const noMargins = (s: any) => {
  s.paddingTop = 0;
  s.paddingBottom = 0;
  s.paddingLeft = 0;
  s.paddingRight = 0;
};

export default function App() {
  const ref = useRef<HTMLCanvasElement | null>(null);
  useEffect(() => {
    const datasets = walk.slice(0, -1).map((p, i) => ({
      data: [
        { x: p[0], y: p[1] },
        { x: walk[i + 1][0], y: walk[i + 1][1] },
      ],
      borderColor: palette[i % 10],
      borderWidth: 7,
      borderCapStyle: "square" as const,
      pointRadius: 0,
      showLine: true,
      fill: false,
    }));
    const chart = new Chart(ref.current as HTMLCanvasElement, {
      type: "scatter",
      data: { datasets },
      plugins: [frame],
      options: {
        animation: false,
        responsive: false,
        devicePixelRatio: 1,
        layout: { padding: { left: 0, right: 24, top: 28, bottom: 0 } },
        plugins: { legend: { display: false }, tooltip: { enabled: false } },
        scales: {
          x: {
            type: "linear",
            min: -0.7767,
            max: 0.216,
            afterFit: (s: any) => { s.height = 170; noMargins(s); },
            afterBuildTicks: (s: any) => { s.ticks = xTicks.map((value) => ({ value })); },
            grid: { display: true, drawOnChartArea: false, drawTicks: true, tickLength: 18, tickWidth: 3.8, tickColor: "#000" },
            border: { display: true, color: "#000", width: 3.8 },
            ticks: { callback: (v: any) => fmt(Number(v)), color: "#000", font: { family: FONT, size: 49 }, padding: 9, autoSkip: false, maxRotation: 0 },
            title: { display: true, text: xLabel, color: "#000", font: { family: FONT, size: 49 }, padding: { top: 0, bottom: 13 } },
          },
          y: {
            type: "linear",
            min: -0.2833,
            max: 0.3117,
            afterFit: (s: any) => { s.width = 257.6; noMargins(s); },
            afterBuildTicks: (s: any) => { s.ticks = yTicks.map((value) => ({ value })); },
            grid: { display: true, drawOnChartArea: false, drawTicks: true, tickLength: 18, tickWidth: 3.8, tickColor: "#000" },
            border: { display: true, color: "#000", width: 3.8 },
            ticks: { callback: (v: any) => fmt(Number(v)), color: "#000", font: { family: FONT, size: 49 }, padding: 16, autoSkip: false },
            title: { display: true, text: yLabel, color: "#000", font: { family: FONT, size: 49 }, padding: { top: 21, bottom: 0 } },
          },
        },
      },
    } as any);
    return () => chart.destroy();
  }, []);
  return (
    <div style={{ position: "absolute", left: 0, top: 0, width: 2229, height: 1657, background: "#fff" }}>
      <canvas ref={ref} width={2229} height={1657} style={{ display: "block", filter: "blur(0.8px)" }} />
    </div>
  );
}
